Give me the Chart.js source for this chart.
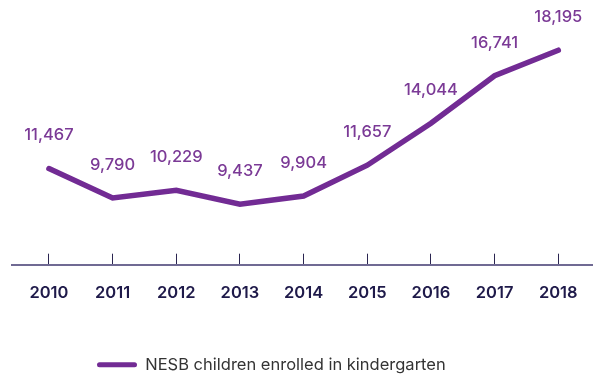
<!DOCTYPE html>
<html>
<head>
<meta charset="utf-8">
<script src="https://cdn.jsdelivr.net/npm/chart.js@4"></script>
<style>
html,body{margin:0;padding:0;background:#fff;}
#wrap{position:relative;width:593px;height:380px;}
</style>
</head>
<body>
<div id="wrap"><canvas id="c" width="593" height="380"></canvas></div>
<script>
const years = [2010, 2011, 2012, 2013, 2014, 2015, 2016, 2017, 2018];
const enrolments = [11467, 9790, 10229, 9437, 9904, 11657, 14044, 16741, 18195];
const seriesName = 'NESB children enrolled in kindergarten';

const LINE = '#722b94';
const LABEL = '#7b3a96';

const valueLabels = {
  id: 'valueLabels',
  afterDatasetsDraw(chart) {
    const ctx = chart.ctx;
    const meta = chart.getDatasetMeta(0);
    ctx.save();
    ctx.font = '500 16.5px Inter, "Noto Sans", sans-serif';
    ctx.fillStyle = LABEL;
    ctx.textAlign = 'center';
    ctx.textBaseline = 'middle';
    meta.data.forEach((pt, i) => {
      ctx.fillText(enrolments[i].toLocaleString('en-US'), pt.x, pt.y - 33);
    });
    ctx.restore();
  }
};

const shiftLegend = {
  id: 'shiftLegend',
  afterLayout(chart) {
    const lg = chart.legend;
    const w = lg.right - lg.left;
    lg.left = 87; lg.right = 87 + w;
    lg.top += 3; lg.bottom += 3;
  }
};

new Chart(document.getElementById('c'), {
  type: 'line',
  data: {
    datasets: [{
      label: seriesName,
      data: years.map((y, i) => ({x: y, y: enrolments[i]})),
      borderColor: LINE,
      backgroundColor: LINE,
      borderWidth: 5.5,
      pointRadius: 0,
      tension: 0,
      borderCapStyle: 'round',
      borderJoinStyle: 'miter'
    }]
  },
  options: {
    responsive: false,
    animation: false,
    layout: {padding: {left: 12, right: 0, top: 0, bottom: 0}},
    scales: {
      x: {
        type: 'linear',
        min: 2009.42,
        max: 2018.545,
        afterBuildTicks(scale) { scale.ticks = years.map(v => ({value: v})); },
        afterFit(scale) {
          scale.paddingLeft = 0;
          scale.paddingRight = 0;
          scale.height += 12;
        },
        grid: {display: true, drawOnChartArea: false, drawTicks: true, tickLength: -11, color: '#2a2550', lineWidth: 1},
        border: {display: true, color: '#706a93', width: 2},
        ticks: {
          color: '#1f1a4a',
          font: {family: 'Inter, "Noto Sans", sans-serif', size: 16.5, weight: '600'},
          padding: 29,
          autoSkip: false,
          maxRotation: 0,
          callback: v => String(v)
        }
      },
      y: {
        display: false,
        min: 6000,
        max: 21050
      }
    },
    plugins: {
      legend: {
        position: 'bottom',
        align: 'start',
        labels: {
          color: '#333333',
          font: {family: 'Inter, "Noto Sans", sans-serif', size: 16.5},
          boxWidth: 40,
          boxHeight: 5,
          padding: 10,
          useBorderRadius: true,
          borderRadius: 2.5,
          generateLabels(chart) {
            return chart.data.datasets.map((ds, i) => ({
              text: ds.label,
              fillStyle: LINE,
              strokeStyle: LINE,
              lineWidth: 0,
              fontColor: '#333333',
              borderRadius: 2.5,
              datasetIndex: i,
              hidden: false
            }));
          }
        }
      },
      tooltip: {enabled: false}
    }
  },
  plugins: [valueLabels, shiftLegend]
});
</script>
</body>
</html>
